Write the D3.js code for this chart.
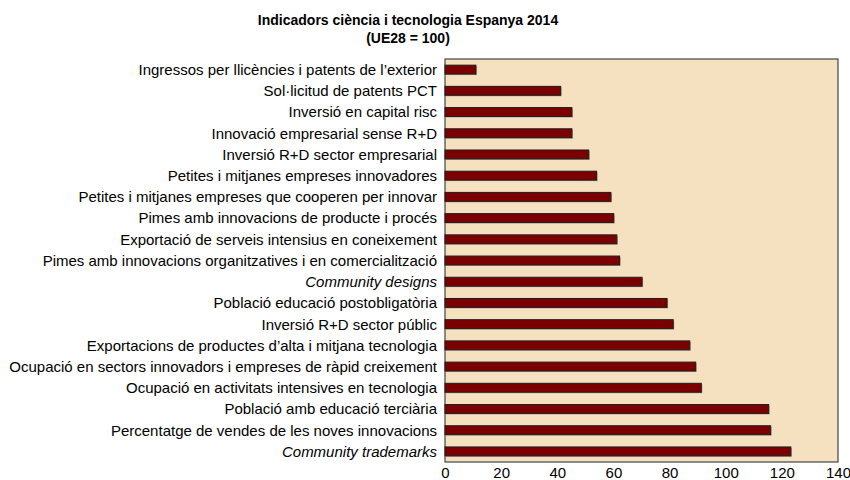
<!DOCTYPE html>
<meta charset="utf-8">
<style>
body { margin: 0; background: #fff; }
text { font-family: Arial, "Liberation Sans", sans-serif; fill: #000; }
.title { font-weight: bold; font-size: 14px; }
.cat { font-size: 15px; }
.tick text { font-size: 15px; }
</style>
<body>
<script src="https://d3js.org/d3.v7.min.js"></script>
<script>

// categories top to bottom, values as index UE28 = 100
var categories = [
  "Ingressos per llicències i patents de l’exterior",
  "Sol·licitud de patents PCT",
  "Inversió en capital risc",
  "Innovació empresarial sense R+D",
  "Inversió R+D sector empresarial",
  "Petites i mitjanes empreses innovadores",
  "Petites i mitjanes empreses que cooperen per innovar",
  "Pimes amb innovacions de producte i procés",
  "Exportació de serveis intensius en coneixement",
  "Pimes amb innovacions organitzatives i en comercialització",
  "Community designs",
  "Població educació postobligatòria",
  "Inversió R+D sector públic",
  "Exportacions de productes d’alta i mitjana tecnologia",
  "Ocupació en sectors innovadors i empreses de ràpid creixement",
  "Ocupació en activitats intensives en tecnologia",
  "Població amb educació terciària",
  "Percentatge de vendes de les noves innovacions",
  "Community trademarks"
];
var values = [11.0, 41.2, 45.2, 45.2, 51.2, 54.0, 59.1, 60.1, 61.2, 62.2,
              70.2, 79.1, 81.3, 87.2, 89.3, 91.3, 115.3, 116.0, 123.2];
var italicCats = ["Community designs", "Community trademarks"];
var xTicks = [0, 20, 40, 60, 80, 100, 120, 140];

var data = categories.map(function(c, i) { return {name: c, value: values[i]}; });

var W = 850, H = 480;
var margin = {top: 59, right: 12, bottom: 18, left: 445},
    width = W - margin.left - margin.right,
    height = H - margin.top - margin.bottom;

var svg = d3.select("body").append("svg")
    .attr("width", W)
    .attr("height", H);

svg.append("text").attr("class", "title")
    .attr("x", 408).attr("y", 25)
    .attr("text-anchor", "middle")
    .text("Indicadors ciència i tecnologia Espanya 2014");
svg.append("text").attr("class", "title")
    .attr("x", 408).attr("y", 43)
    .attr("text-anchor", "middle")
    .text("(UE28 = 100)");

var g = svg.append("g")
    .attr("transform", "translate(" + margin.left + "," + margin.top + ")");

var x = d3.scaleLinear().domain([0, 140]).range([0, width]);
var y = d3.scaleBand().domain(categories).range([0, height]).paddingInner(0.58).paddingOuter(0.29);

// plot background
g.append("rect")
    .attr("width", width).attr("height", height)
    .attr("fill", "#f5e0c0")
    .attr("stroke", "#444").attr("stroke-width", 1.2);

// bar shadows
g.selectAll(".shadow")
  .data(data)
  .enter().append("rect")
    .attr("x", 1)
    .attr("y", function(d) { return y(d.name) + 1; })
    .attr("width", function(d) { return x(d.value); })
    .attr("height", y.bandwidth())
    .attr("fill", "#a89a88");

g.selectAll(".bar")
  .data(data)
  .enter().append("rect")
    .attr("class", "bar")
    .attr("x", 0)
    .attr("y", function(d) { return y(d.name); })
    .attr("width", function(d) { return x(d.value); })
    .attr("height", y.bandwidth())
    .attr("fill", "#7d0000")
    .attr("stroke", "#1e1e1e")
    .attr("stroke-width", 1);

// category labels
g.selectAll(".cat")
  .data(categories)
  .enter().append("text")
    .attr("class", "cat")
    .attr("x", -8)
    .attr("y", function(d) { return y(d) + y.bandwidth() / 2; })
    .attr("dy", "0.36em")
    .attr("text-anchor", "end")
    .style("font-style", function(d) { return italicCats.indexOf(d) >= 0 ? "italic" : "normal"; })
    .text(function(d) { return d; });

// x axis
var xAxis = g.append("g")
    .attr("transform", "translate(0," + height + ")")
    .call(d3.axisBottom(x).tickValues(xTicks).tickSize(0).tickPadding(0));
xAxis.select(".domain").remove();
xAxis.selectAll("text").attr("fill", "#000").attr("y", 16).attr("dy", null)
    .attr("font-family", null).attr("font-size", null);

</script>
</body>
